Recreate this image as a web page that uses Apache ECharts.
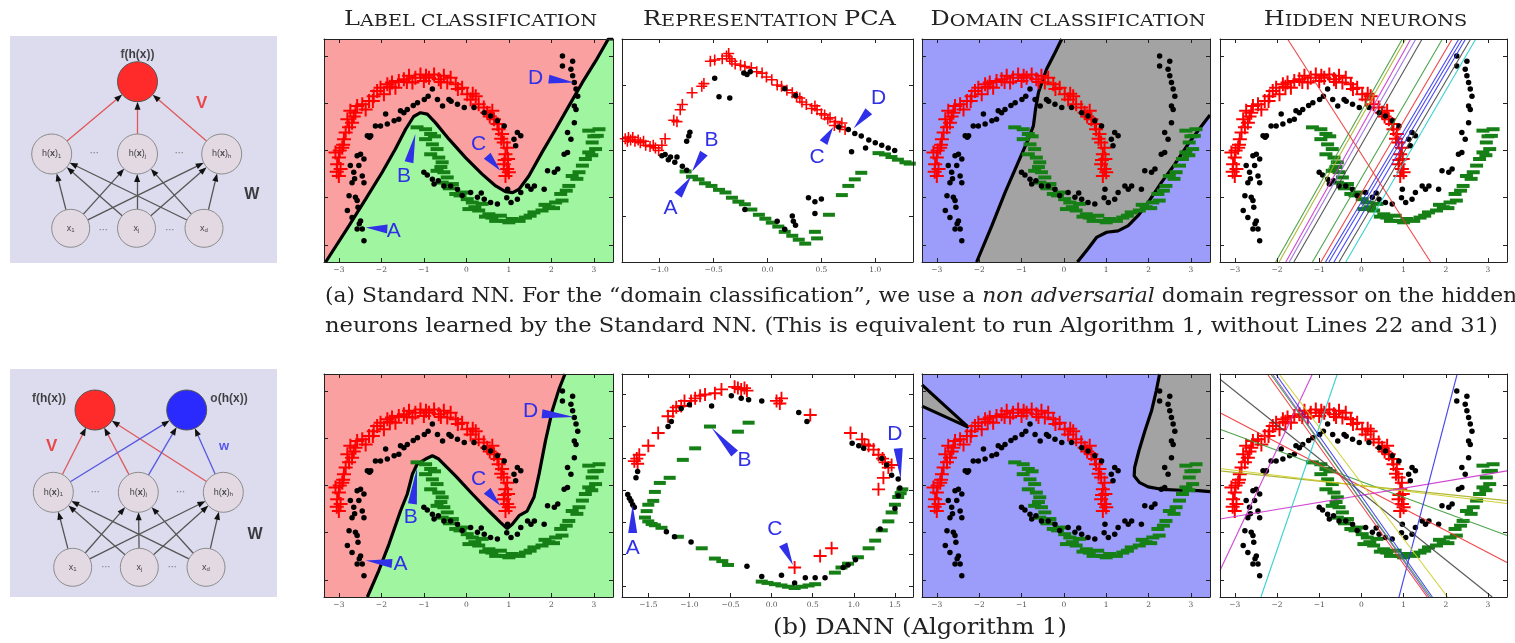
<!DOCTYPE html>
<html><head><meta charset="utf-8">
<script src="https://cdn.jsdelivr.net/npm/echarts/dist/echarts.min.js"></script>
<style>html,body{margin:0;padding:0;background:#fff}#c{width:1515px;height:643px}</style>
</head><body><div id="c"></div><script>
// ================= DATA =================
const panelTitles = ['Label classification','Representation PCA','Domain classification','Hidden neurons'];
const caption1 = '(a) Standard NN. For the \u201cdomain classification\u201d, we use a {I|non adversarial} domain regressor on the hidden';
const caption2 = 'neurons learned by the Standard NN. (This is equivalent to run Algorithm 1, without Lines 22 and 31)';
const caption3 = '(b) DANN (Algorithm 1)';

const xTicksMoon = [-3,-2,-1,0,1,2,3];
const yTicksMoon = [-2,-1,0,1,2];
const xTicksPcaA = [-1,-0.5,0,0.5,1];
const yTicksPcaA = [-0.5,0,0.5];
const xTicksPcaB = [-1.5,-1,-0.5,0,0.5,1,1.5];
const yTicksPcaB = [-0.75,-0.5,-0.25,0,0.25,0.5,0.75];

// source moon (red crosses)
const moonRed = [[-3.08,-0.04],[-3.0,-0.15],[-3.04,-0.29],[-2.96,-0.39],[-3.0,-0.54],[-2.92,0.06],[-2.88,0.24],[-2.84,0.38],[-2.76,0.49],[-2.8,0.66],[-2.69,0.59],[-2.73,0.84],[-2.61,0.8],[-2.57,0.94],[-2.45,0.98],[-2.37,0.87],[-2.29,1.05],[-2.18,1.15],[-2.1,1.26],[-2.02,1.33],[-1.94,1.19],[-1.86,1.4],[-1.75,1.44],[-1.67,1.33],[-1.59,1.47],[-1.47,1.51],[-1.35,1.58],[-1.27,1.44],[-1.2,1.54],[-1.08,1.61],[-1.0,1.47],[-0.88,1.54],[-0.76,1.61],[-0.65,1.51],[-0.53,1.58],[-0.45,1.44],[-0.37,1.54],[-0.25,1.4],[-0.1,1.33],[0.02,1.19],[0.1,1.08],[0.22,1.15],[0.29,0.98],[0.41,0.91],[0.49,0.8],[0.61,0.84],[0.65,0.66],[0.73,0.56],[0.76,0.45],[0.84,0.35],[0.88,0.17],[0.96,0.06],[0.92,-0.08],[0.98,-0.18],[0.88,-0.29],[0.96,-0.39],[0.92,-0.54],[1.0,-0.46],[-2.9,0.12],[-2.65,0.72],[-2.2,1.05],[-1.8,1.35],[-1.4,1.45],[-0.95,1.58],[-0.6,1.45],[-0.2,1.3],[0.15,1.2],[0.55,0.72],[0.82,0.25],[0.9,-0.2],[-3.05,-0.45],[-2.98,0.0]];
// source moon (green dashes)
const moonGreen = [[-1.16,0.49],[-0.96,0.45],[-0.84,0.35],[-0.96,0.24],[-0.8,0.13],[-0.69,0.03],[-0.84,-0.08],[-0.65,-0.15],[-0.57,-0.25],[-0.69,-0.43],[-0.53,-0.46],[-0.45,-0.57],[-0.57,-0.68],[-0.33,-0.71],[-0.25,-0.92],[-0.1,-0.89],[0.02,-1.03],[0.14,-1.1],[0.06,-1.24],[0.29,-1.27],[0.37,-1.13],[0.53,-1.35],[0.69,-1.49],[0.8,-1.38],[0.92,-1.49],[1.08,-1.45],[1.24,-1.49],[1.39,-1.42],[1.59,-1.31],[1.78,-1.27],[1.94,-1.2],[2.1,-1.1],[2.25,-1.06],[2.22,-0.92],[2.41,-0.75],[2.49,-0.54],[2.65,-0.46],[2.73,-0.32],[2.8,-0.18],[2.88,-0.04],[3.04,0.03],[2.96,0.17],[3.08,0.31],[3.12,0.45],[2.88,0.42],[-0.75,0.3],[-0.6,-0.35],[-0.4,-0.8],[-0.15,-0.95],[0.2,-1.2],[0.45,-1.4],[0.6,-1.42],[1.0,-1.52],[1.5,-1.38],[1.85,-1.15],[2.05,-1.22],[2.35,-0.85],[2.6,-0.6],[2.95,-0.1],[3.0,0.3]];
// target (rotated) moons (black dots)
const moonBlack = [[-2.49,-0.08],[-2.57,-0.11],[-2.41,-0.18],[-2.73,-0.32],[-2.53,-0.32],[-2.65,-0.46],[-2.45,-0.54],[-2.69,-0.68],[-2.41,-0.68],[-2.76,-0.96],[-2.61,-0.99],[-2.57,-1.06],[-2.8,-1.27],[-2.69,-1.42],[-2.49,-1.49],[-2.57,-1.66],[-2.45,-1.66],[-2.41,-1.91],[-2.63,-0.6],[-2.55,-1.2],[-2.52,-1.55],[-2.33,0.31],[-2.25,0.31],[-2.14,0.52],[-2.02,0.52],[-1.86,0.56],[-1.9,0.77],[-1.7,0.63],[-1.59,0.66],[-1.55,0.84],[-1.47,0.8],[-1.39,0.87],[-1.15,1.01],[-0.99,1.08],[-0.8,1.3],[-0.68,1.08],[-0.56,0.94],[-0.41,1.08],[-0.36,1.04],[-0.21,0.98],[-0.05,0.91],[0.18,0.91],[0.42,0.8],[0.57,0.73],[0.73,0.63],[0.89,0.52],[1.2,0.38],[1.12,0.24],[1.28,0.31],[1.16,0.1],[-2.28,0.28],[-1.25,0.95],[-0.9,1.15],[-1.0,-0.46],[-0.92,-0.52],[-0.8,-0.61],[-0.76,-0.71],[-0.66,-0.64],[-0.53,-0.75],[-0.37,-0.75],[-0.21,-0.82],[0.1,-0.89],[0.26,-0.99],[0.42,-1.03],[0.57,-1.1],[0.73,-1.13],[1.05,-1.1],[1.2,-1.03],[1.28,-0.89],[1.44,-0.75],[1.52,-0.82],[1.6,-0.75],[1.83,-0.82],[1.91,-0.43],[2.07,-0.46],[2.15,-0.39],[2.3,-0.08],[2.38,-0.04],[2.46,0.24],[2.38,0.38],[2.54,0.59],[2.58,0.87],[2.54,0.94],[2.62,1.15],[2.58,1.3],[2.54,1.44],[2.5,1.58],[2.46,1.72],[2.5,1.89],[2.26,2.0],[2.26,1.79],[0.97,-0.82],[0.95,-1.0],[0.35,-0.9],[-0.1,-0.95]];

// PCA of standard NN representation
const pcaRedA = [[-1.32,0.09],[-1.27,0.08],[-1.23,0.07],[-1.18,0.06],[-1.13,0.04],[-1.09,0.03],[-1.04,0.02],[-1.01,0.0],[-1.29,0.1],[-1.2,0.08],[-1.3,0.07],[-1.25,0.1],[-1.15,0.07],[-1.06,0.04],[-0.95,0.09],[-0.98,0.04],[-0.87,0.23],[-0.84,0.22],[-0.79,0.35],[-0.81,0.31],[-0.7,0.44],[-0.59,0.51],[-0.61,0.49],[-0.53,0.68],[-0.49,0.69],[-0.42,0.7],[-0.38,0.72],[-0.35,0.7],[-0.33,0.68],[-0.36,0.74],[-0.3,0.66],[-0.25,0.65],[-0.21,0.64],[-0.15,0.63],[-0.1,0.6],[-0.05,0.59],[-0.01,0.56],[0.04,0.54],[0.09,0.5],[0.13,0.49],[0.18,0.46],[0.23,0.44],[0.27,0.41],[0.3,0.4],[0.32,0.37],[0.36,0.35],[0.41,0.32],[0.46,0.31],[0.53,0.27],[0.56,0.24],[0.58,0.25],[0.63,0.22],[0.67,0.18],[0.72,0.16],[0.69,0.21],[0.5,0.28],[0.44,0.34],[0.62,0.19]];
const pcaGreenA = [[-0.76,-0.16],[-0.7,-0.2],[-0.64,-0.22],[-0.58,-0.25],[-0.52,-0.27],[-0.45,-0.3],[-0.39,-0.32],[-0.33,-0.36],[-0.27,-0.39],[-0.21,-0.41],[-0.15,-0.45],[-0.08,-0.49],[-0.02,-0.52],[0.04,-0.55],[0.1,-0.58],[0.16,-0.62],[0.23,-0.65],[0.29,-0.68],[0.35,-0.71],[0.44,-0.62],[0.46,-0.67],[0.57,-0.49],[0.69,-0.34],[0.75,-0.27],[0.81,-0.22],[0.87,-0.17],[1.03,-0.02],[1.09,-0.03],[1.15,-0.05],[1.21,-0.07],[1.28,-0.09],[1.32,-0.1]];
const pcaBlackA = [[-0.49,0.55],[-0.45,0.41],[-0.35,0.4],[-0.22,0.59],[-0.19,0.58],[-0.16,0.6],[0.16,0.47],[0.26,0.42],[-0.75,0.07],[-0.73,0.11],[-0.72,0.14],[-0.95,-0.03],[-0.9,-0.05],[-0.84,-0.05],[-0.98,-0.04],[-0.92,-0.07],[-0.86,-0.09],[-0.79,-0.12],[-0.75,-0.15],[-0.21,-0.45],[0.09,-0.54],[0.16,-0.6],[0.23,-0.5],[0.24,-0.54],[0.26,-0.57],[0.38,-0.36],[0.44,-0.39],[0.5,-0.37],[0.44,-0.48],[0.78,-0.01],[0.91,0.02],[0.81,0.13],[0.87,0.11],[0.94,0.08],[1.0,0.06],[1.06,0.04],[1.12,0.02],[1.18,0.0],[0.75,0.16],[0.66,0.18]];

// PCA of DANN representation
const pcaRedB = [[-1.67,0.23],[-1.64,0.25],[-1.61,0.28],[-1.63,0.21],[-1.5,0.35],[-1.38,0.45],[-1.26,0.58],[-1.2,0.62],[-1.16,0.65],[-1.1,0.66],[-1.06,0.7],[-0.98,0.7],[-0.93,0.72],[-0.87,0.74],[-0.81,0.75],[-0.69,0.76],[-0.61,0.79],[-0.45,0.81],[-0.41,0.8],[-0.37,0.79],[-0.33,0.8],[-0.3,0.78],[0.06,0.7],[0.1,0.68],[0.12,0.72],[0.47,0.59],[0.96,0.45],[1.1,0.4],[1.13,0.36],[1.18,0.35],[1.24,0.32],[1.3,0.28],[1.35,0.25],[1.38,0.22],[1.42,0.18],[1.46,0.2],[1.36,0.1],[1.3,0.01],[0.28,-0.6],[0.59,-0.51],[0.73,-0.45]];
const pcaGreenB = [[-1.5,-0.11],[-1.52,-0.16],[-1.54,-0.21],[-1.5,-0.24],[-1.46,-0.26],[-1.42,-0.27],[-1.34,-0.29],[-1.14,-0.36],[-0.85,-0.45],[-0.69,-0.53],[-0.6,-0.55],[-0.53,-0.58],[-0.12,-0.71],[-0.05,-0.72],[0.04,-0.73],[0.12,-0.74],[0.2,-0.75],[0.28,-0.76],[0.37,-0.75],[0.45,-0.74],[0.53,-0.73],[0.77,-0.64],[0.85,-0.6],[0.93,-0.57],[1.05,-0.52],[1.18,-0.45],[1.26,-0.39],[1.34,-0.31],[1.42,-0.24],[1.46,-0.17],[1.5,-0.11],[1.54,-0.05],[1.59,0.01],[1.57,-0.02],[-1.44,-0.08],[-1.42,-0.01],[-1.36,0.06],[-1.24,0.1],[-1.08,0.24],[-0.93,0.33],[-0.75,0.5],[-0.41,0.46],[-0.28,0.53]];
const pcaBlackB = [[-1.75,-0.03],[-1.73,-0.06],[-1.71,-0.08],[-1.69,-0.11],[-1.67,-0.13],[-1.65,0.1],[-1.63,0.15],[-1.26,0.5],[-1.22,0.54],[-1.1,0.64],[-1.0,0.67],[-0.73,0.66],[-0.49,0.74],[-0.37,0.72],[-0.28,0.71],[-0.12,0.7],[0.33,0.61],[0.43,0.54],[0.98,0.37],[1.06,0.35],[1.12,0.33],[1.34,0.25],[1.4,0.2],[1.46,0.12],[1.54,0.09],[1.56,0.02],[1.54,-0.04],[1.5,-0.14],[1.32,-0.3],[1.02,-0.54],[0.93,-0.58],[0.87,-0.6],[0.65,-0.68],[0.53,-0.68],[0.41,-0.68],[0.28,-0.72],[0.12,-0.66],[-0.12,-0.67],[-0.3,-0.59],[-0.98,-0.4],[-1.28,-0.32],[-1.18,-0.36]];

// decision boundaries
const labelBoundA = [[-3.31,-2.36],[-2.76,-1.59],[-2.37,-1.03],[-1.98,-0.46],[-1.67,0.03],[-1.43,0.45],[-1.24,0.72],[-1.08,0.8],[-0.92,0.77],[-0.73,0.59],[-0.41,0.24],[-0.02,-0.15],[0.37,-0.5],[0.69,-0.75],[0.92,-0.87],[1.09,-0.89],[1.24,-0.82],[1.47,-0.54],[1.78,-0.04],[2.1,0.45],[2.41,0.94],[2.73,1.44],[3.04,1.89],[3.34,2.36]];
const labelBoundB = [[-2.33,-2.36],[-2.06,-1.8],[-1.82,-1.24],[-1.55,-0.54],[-1.39,-0.18],[-1.27,0.24],[-1.16,0.45],[-0.96,0.56],[-0.8,0.63],[-0.65,0.56],[-0.25,0.2],[0.14,-0.18],[0.53,-0.54],[0.8,-0.78],[0.96,-0.91],[1.08,-0.82],[1.24,-0.64],[1.43,-0.54],[1.59,-0.25],[1.71,0.24],[1.86,0.94],[2.02,1.58],[2.18,2.04],[2.32,2.36]];
const domLeftA = [[-2.06,-2.36],[-1.7,-1.59],[-1.39,-0.89],[-1.08,-0.25],[-0.84,0.24],[-0.72,0.52],[-0.67,0.87],[-0.6,1.23],[-0.41,1.72],[-0.21,2.07],[-0.05,2.36]];
const domRightA = [[0.32,-2.36],[0.57,-2.08],[0.77,-1.84],[1.01,-1.73],[1.28,-1.7],[1.52,-1.59],[1.75,-1.38],[1.99,-1.1],[2.3,-0.68],[2.62,-0.29],[2.93,0.13],[3.25,0.52],[3.45,0.75]];
const domBoundB = [[2.26,2.36],[2.18,2.0],[2.07,1.58],[1.91,1.15],[1.77,0.73],[1.67,0.38],[1.66,0.2],[1.79,0.06],[1.99,-0.03],[2.3,-0.08],[2.77,-0.1],[3.17,-0.11],[3.45,-0.13]];
const domWedgeB = [[-3.35,2.13],[-2.25,1.23],[-3.35,1.68]];

// hidden neurons: [x1,y1,x2,y2]
const hiddenA = [[-2.03,-2.36,0.97,2.36],[-1.95,-2.36,1.05,2.36],[-1.79,-2.36,1.17,2.36],[-1.71,-2.36,1.29,2.36],[-1.6,-2.36,1.44,2.36],[-1.16,-2.36,1.92,2.36],[-0.96,-2.36,2.15,2.36],[-0.85,-2.36,2.31,2.36],[-0.77,-2.36,2.39,2.36],[-0.65,-2.36,2.47,2.36],[-0.53,-2.36,2.59,2.36],[-0.37,-2.36,2.71,2.36],[-1.75,2.36,1.64,-2.36]];
const hiddenColorsA = ['#3a9a3a','#a8b020','#cc33cc','#9966dd','#444444','#3a9a3a','#ee3333','#3333ee','#3333ee','#3333ee','#444444','#22cccc','#ee3333'];
const hiddenB = [[-3.35,2.25,3.1,-2.36],[-3.35,1.54,3.45,-1.63],[-3.35,1.19,3.45,-1.06],[-3.35,0.31,3.45,-0.32],[-3.35,0.36,3.45,-0.38],[-3.35,-0.71,3.45,0.31],[-3.35,-1.8,-1.16,2.36],[-2.38,-2.36,-0.57,2.36],[0.89,-2.36,2.27,2.36],[-2.03,2.36,1.68,-2.36],[-2.11,2.36,1.6,-2.36],[-2.23,2.36,1.56,-2.36],[-2.15,2.36,1.64,-2.36],[-1.95,2.36,2.04,-2.36]];
const hiddenColorsB = ['#444444','#ee3333','#3a9a3a','#a8b020','#cccc22','#cc33cc','#cc33cc','#22cccc','#3333ee','#3333ee','#8844dd','#ee3333','#3a9a3a','#cccc22'];

// annotations: [textX,textY, tailX,tailY, tipX,tipY]
const annLetters = ['A','B','C','D'];
const annLabelA = [[-1.71,-1.7,-1.86,-1.66,-2.37,-1.63],[-1.47,-0.54,-1.35,-0.25,-1.2,0.35],[0.29,0.13,0.49,-0.11,0.8,-0.43],[1.63,1.54,1.94,1.51,2.53,1.44]];
const annLabelB = [[-1.55,-1.66,-1.75,-1.65,-2.37,-1.59],[-1.31,-0.68,-1.27,-0.39,-1.16,0.38],[0.29,0.13,0.49,-0.11,0.8,-0.43],[1.51,1.58,1.78,1.52,2.53,1.45]];
const annPcaA = [[-0.9,-0.44,-0.83,-0.34,-0.71,-0.2],[-0.52,0.08,-0.59,-0.02,-0.7,-0.16],[0.46,-0.05,0.52,0.06,0.61,0.18],[1.03,0.4,0.94,0.3,0.8,0.17]];
const annPcaB = [[-1.69,-0.45,-1.69,-0.33,-1.69,-0.11],[-0.33,0.24,-0.45,0.29,-0.73,0.49],[0.04,-0.3,0.14,-0.42,0.26,-0.58],[1.5,0.44,1.54,0.33,1.57,0.09]];

// network diagrams: [name, x, y, diameter, kind, label]
const net1Nodes = [['f',127.5,45.7,40,'red',''],['h1',41.7,118,40,'node','{n|h(}{b|x}{n|)}{s|1}'],['hj',127.5,118,40,'node','{n|h(}{b|x}{n|)}{s|j}'],['hh',211.7,118,40,'node','{n|h(}{b|x}{n|)}{s|h}'],['x1',60.7,192.3,38,'node','{n|x}{s|1}'],['xj',126.5,192.3,38,'node','{n|x}{s|j}'],['xd',194,192.3,38,'node','{n|x}{s|d}']];
const net1Edges = [['h1','f','r'],['hj','f','r'],['hh','f','r'],['x1','h1','k'],['x1','hj','k'],['x1','hh','k'],['xj','h1','k'],['xj','hj','k'],['xj','hh','k'],['xd','h1','k'],['xd','hj','k'],['xd','hh','k']];
const net1Texts = [['{B|f(}{X|h}{B|(}{X|x}{B|))}',127.5,19,'t'],['V',191.7,67.3,'V'],['W',241.7,159,'W'],['\u00b7\u00b7\u00b7',84.5,118,'d'],['\u00b7\u00b7\u00b7',169.6,118,'d'],['\u00b7\u00b7\u00b7',93.5,195,'d'],['\u00b7\u00b7\u00b7',160,195,'d']];
const net2Nodes = [['f',85,41,40,'red',''],['o',176.7,41,40,'blue',''],['h1',43.3,123.3,40,'node','{n|h(}{b|x}{n|)}{s|1}'],['hj',128.3,123.3,40,'node','{n|h(}{b|x}{n|)}{s|j}'],['hh',213.3,123.3,40,'node','{n|h(}{b|x}{n|)}{s|h}'],['x1',62.7,198.3,38,'node','{n|x}{s|1}'],['xj',129.3,198.3,38,'node','{n|x}{s|j}'],['xd',196,198.3,38,'node','{n|x}{s|d}']];
const net2Edges = [['h1','f','r'],['hj','f','r'],['hh','f','r'],['h1','o','b'],['hj','o','b'],['hh','o','b'],['x1','h1','k'],['x1','hj','k'],['x1','hh','k'],['xj','h1','k'],['xj','hj','k'],['xj','hh','k'],['xd','h1','k'],['xd','hj','k'],['xd','hh','k']];
const net2Texts = [['{B|f(}{X|h}{B|(}{X|x}{B|))}',39,29.3,'t'],['{B|o(}{X|h}{B|(}{X|x}{B|))}',219,29.3,'t'],['V',41.7,77.7,'V'],['w',214,77.7,'w'],['W',245,166,'W'],['\u00b7\u00b7\u00b7',85.5,124,'d'],['\u00b7\u00b7\u00b7',170.8,124,'d'],['\u00b7\u00b7\u00b7',96,199,'d'],['\u00b7\u00b7\u00b7',162.6,199,'d']];

// ================= STYLE / LAYOUT =================
const SERIF = "'DejaVu Serif', 'Liberation Serif', serif";
const SANS = "'Liberation Sans', Arial, sans-serif";
const C = {red:'#faa0a0', green:'#a0f6a0', blue:'#9c9cfa', gray:'#a3a3a3', pt:'#ff0000', dash:'#168016', dot:'#000', ann:'#3030e8'};
const CROSS = 'path://M6,0H8V6H14V8H8V14H6V8H0V6H6Z';
const COLS = [[324,289],[622,291],[922,288],[1220,287]];
const ROWS = [[39,223],[374,223]];
const MX = [-3.35,3.45], MY = [-2.36,2.36];

const grid=[], xAxis=[], yAxis=[], series=[], graphic=[];

function fmt(dec){ return v => (v<0?'\u2212':'') + Math.abs(v).toFixed(dec); }
function addPanel(col,row,xr,yr,xt,yt,dec,bg){
  const gi = grid.length;
  grid.push({left:COLS[col][0], top:ROWS[row][0], width:COLS[col][1], height:ROWS[row][1], show:!!bg, backgroundColor:bg||'transparent', borderWidth:0});
  const line = {show:true, onZero:false, lineStyle:{color:'#222', width:1}};
  const tick = v => ({show:true, inside:true, length:4, customValues:v, lineStyle:{color:'#222', width:1}});
  const xi = xAxis.length, yi = yAxis.length;
  xAxis.push({gridIndex:gi, type:'value', min:xr[0], max:xr[1], position:'bottom', z:10, axisLine:line, axisTick:tick(xt),
    axisLabel:{show:true, customValues:xt, formatter:fmt(dec), fontSize:7.5, color:'#555', margin:4, fontFamily:"'DejaVu Serif', serif"}, splitLine:{show:false}});
  xAxis.push({gridIndex:gi, type:'value', min:xr[0], max:xr[1], position:'top', z:10, axisLine:line, axisTick:tick(xt), axisLabel:{show:false}, splitLine:{show:false}});
  yAxis.push({gridIndex:gi, type:'value', min:yr[0], max:yr[1], position:'left', z:10, axisLine:line, axisTick:tick(yt), axisLabel:{show:false}, splitLine:{show:false}});
  yAxis.push({gridIndex:gi, type:'value', min:yr[0], max:yr[1], position:'right', z:10, axisLine:line, axisTick:tick(yt), axisLabel:{show:false}, splitLine:{show:false}});
  return {xi, yi};
}
function base(ax){ return {xAxisIndex:ax.xi, yAxisIndex:ax.yi, silent:true, animation:false}; }
function polygon(ax, pts, color){
  series.push(Object.assign(base(ax), {type:'custom', data:[[0,0]], encode:{x:0,y:1}, clip:true, z:1,
    renderItem:(p,api)=>({type:'polygon', shape:{points:pts.map(q=>api.coord(q))}, style:{fill:color}})}));
}
function boundary(ax, pts){
  series.push(Object.assign(base(ax), {type:'line', data:pts, showSymbol:false, symbol:'none', z:2, clip:true, lineStyle:{color:'#000', width:3.2}}));
}
function points(ax, red, green, black, s){
  series.push(Object.assign(base(ax), {type:'scatter', data:red, symbol:CROSS, symbolSize:s.c, itemStyle:{color:C.pt, opacity:1}, z:3}));
  series.push(Object.assign(base(ax), {type:'scatter', data:green, symbol:'rect', symbolSize:s.g, itemStyle:{color:C.dash, opacity:1}, z:3}));
  series.push(Object.assign(base(ax), {type:'scatter', data:black, symbol:'circle', symbolSize:s.b, itemStyle:{color:C.dot, opacity:1}, z:3}));
}
function neurons(ax, lines, colors){
  series.push(Object.assign(base(ax), {type:'lines', coordinateSystem:'cartesian2d', z:4,
    data: lines.map((l,i)=>({coords:[[l[0],l[1]],[l[2],l[3]]], lineStyle:{color:colors[i], width:1.1, opacity:0.9}})),
    lineStyle:{width:1.1}}));
}
function annotate(ax, ann){
  series.push(Object.assign(base(ax), {type:'custom', data:ann, encode:{x:[0,2,4], y:[1,3,5]}, z:5,
    renderItem:(p,api)=>{
      const t = api.coord([api.value(0),api.value(1)]), a = api.coord([api.value(2),api.value(3)]), b = api.coord([api.value(4),api.value(5)]);
      const dx=b[0]-a[0], dy=b[1]-a[1], L=Math.hypot(dx,dy)||1, nx=-dy/L, ny=dx/L, w=4.5;
      return {type:'group', children:[
        {type:'polygon', shape:{points:[[a[0]+nx*w,a[1]+ny*w],b,[a[0]-nx*w,a[1]-ny*w]]}, style:{fill:C.ann}},
        {type:'text', x:t[0], y:t[1], style:{text:annLetters[p.dataIndex], fontSize:21, fontFamily:SANS, fill:C.ann, align:'center', verticalAlign:'middle'}}
      ]};
    }}));
}

// ---------- diagrams ----------
const NODE = {red:['#ff2b2b','#555'], blue:['#2a2aff','#555'], node:['#e3d9e3','#8c8c8c']};
const EDGE = {r:'#e05858', b:'#5858e0', k:'#555555'};
function addDiagram(left, top, w, h, nodes, edges, texts){
  const gi = grid.length;
  grid.push({left, top, width:w, height:h, show:true, backgroundColor:'#dcdcee', borderWidth:0});
  xAxis.push({gridIndex:gi, type:'value', min:0, max:w, show:false});
  yAxis.push({gridIndex:gi, type:'value', min:0, max:h, inverse:true, show:false});
  const ax = {xi:xAxis.length-1, yi:yAxis.length-1};
  const by = Object.fromEntries(nodes.map(n=>[n[0],n]));
  const segs=[], heads=[];
  edges.forEach(([a,b,c])=>{
    const A=by[a], B=by[b], dx=B[1]-A[1], dy=B[2]-A[2], L=Math.hypot(dx,dy), ux=dx/L, uy=dy/L;
    const ra=A[3]/2, rb=B[3]/2+4;
    segs.push({coords:[[A[1]+ux*ra, A[2]+uy*ra],[B[1]-ux*rb, B[2]-uy*rb]], lineStyle:{color:EDGE[c]}});
    heads.push({value:[B[1]-ux*rb, B[2]-uy*rb], symbolRotate: Math.atan2(-ux,-uy)*180/Math.PI});
  });
  series.push(Object.assign(base(ax), {type:'lines', coordinateSystem:'cartesian2d', data:segs, lineStyle:{width:1.3, opacity:1}, z:2}));
  series.push(Object.assign(base(ax), {type:'scatter', data:heads, symbol:'triangle', symbolSize:[6,8], itemStyle:{color:'#111', opacity:1}, z:3}));
  const rich = {n:{fontSize:9, fontFamily:SANS, color:'#444'}, b:{fontSize:9, fontWeight:'bold', fontFamily:SANS, color:'#444'}, s:{fontSize:6, fontFamily:SANS, color:'#444', padding:[4,0,0,0]}};
  series.push(Object.assign(base(ax), {type:'scatter', z:4,
    data: nodes.map(n=>({value:[n[1],n[2]], symbolSize:n[3], itemStyle:{color:NODE[n[4]][0], borderColor:NODE[n[4]][1], borderWidth:1, opacity:1},
      label:{show:!!n[5], position:'inside', formatter:n[5], rich}}))}));
  const trich = {B:{fontSize:12, fontWeight:'bold', fontFamily:SANS, color:'#222'}, X:{fontSize:12, fontWeight:'bold', fontFamily:SANS, color:'#111'}};
  const tstyle = {t:{fontSize:12,color:'#222'}, V:{fontSize:17,color:'#ee2222'}, w:{fontSize:13,color:'#3333ee'}, W:{fontSize:16,color:'#111'}, d:{fontSize:9,color:'#777'}};
  series.push(Object.assign(base(ax), {type:'scatter', z:5, symbolSize:1, itemStyle:{color:'rgba(0,0,0,0)'},
    data: texts.map(t=>({value:[t[1],t[2]], label:{show:true, position:'inside', formatter:t[0], fontWeight:'bold', fontFamily:SANS, fontSize:tstyle[t[3]].fontSize, color:tstyle[t[3]].color, rich:trich}}))}));
}

// ================= BUILD =================
addDiagram(10, 36, 267, 227, net1Nodes, net1Edges, net1Texts);
addDiagram(10, 369, 267, 228, net2Nodes, net2Edges, net2Texts);

const moonSize = {c:14, g:[13,4], b:5.5};
// Row (a)
let ax = addPanel(0,0,MX,MY,xTicksMoon,yTicksMoon,0,C.red);
polygon(ax, [...labelBoundA, [3.45,2.36],[3.45,-2.36],[-3.35,-2.36]], C.green);
boundary(ax, [...labelBoundA,[3.45,2.36]]);
points(ax, moonRed, moonGreen, moonBlack, moonSize);
annotate(ax, annLabelA);

ax = addPanel(1,0,[-1.35,1.35],[-0.85,0.85],xTicksPcaA,yTicksPcaA,1);
points(ax, pcaRedA, pcaGreenA, pcaBlackA, {c:11, g:[12,4], b:5.5});
annotate(ax, annPcaA);

ax = addPanel(2,0,MX,MY,xTicksMoon,yTicksMoon,0,C.blue);
polygon(ax, [...domLeftA, [3.45,2.36], ...domRightA.slice().reverse()], C.gray);
boundary(ax, domLeftA); boundary(ax, domRightA);
points(ax, moonRed, moonGreen, moonBlack, moonSize);

ax = addPanel(3,0,MX,MY,xTicksMoon,yTicksMoon,0);
points(ax, moonRed, moonGreen, moonBlack, moonSize);
neurons(ax, hiddenA, hiddenColorsA);

// Row (b)
ax = addPanel(0,1,MX,MY,xTicksMoon,yTicksMoon,0,C.red);
polygon(ax, [...labelBoundB, [3.45,2.36],[3.45,-2.36]], C.green);
boundary(ax, labelBoundB);
points(ax, moonRed, moonGreen, moonBlack, moonSize);
annotate(ax, annLabelB);

ax = addPanel(1,1,[-1.82,1.72],[-0.83,0.91],xTicksPcaB,yTicksPcaB,1);
points(ax, pcaRedB, pcaGreenB, pcaBlackB, {c:13, g:[12,4], b:5.5});
annotate(ax, annPcaB);

ax = addPanel(2,1,MX,MY,xTicksMoon,yTicksMoon,0,C.blue);
polygon(ax, [...domBoundB, [3.45,2.36]], C.gray);
polygon(ax, domWedgeB, C.gray);
boundary(ax, domBoundB); boundary(ax, domWedgeB);
points(ax, moonRed, moonGreen, moonBlack, moonSize);

ax = addPanel(3,1,MX,MY,xTicksMoon,yTicksMoon,0);
points(ax, moonRed, moonGreen, moonBlack, moonSize);
neurons(ax, hiddenB, hiddenColorsB);

// ---------- texts ----------
function smallCaps(s){
  let out='', cur=null, buf='';
  for (const ch of s){ const t = (ch !== ch.toLowerCase()) ? 'B' : 'S'; if (t!==cur){ if (buf) out += '{'+cur+'|'+buf+'}'; buf=''; cur=t; } buf += ch.toUpperCase(); }
  if (buf) out += '{'+cur+'|'+buf+'}';
  return out;
}
const titleRich = {B:{fontSize:20, fontFamily:SERIF, fill:'#222', color:'#222', verticalAlign:'bottom', lineHeight:21},
                   S:{fontSize:16, fontFamily:SERIF, fill:'#222', color:'#222', verticalAlign:'bottom', lineHeight:21}};
panelTitles.forEach((t,i)=>{
  graphic.push({type:'text', x:COLS[i][0]+COLS[i][1]/2 + 2, y:19, scaleX:1.2, silent:true,
    style:{text:smallCaps(t), rich:titleRich, align:'center', verticalAlign:'middle', fill:'#222'}});
});
const capStyle = {fontSize:21, fontFamily:SERIF, fill:'#222'};
graphic.push({type:'text', x:325, y:297, scaleX:1.04, silent:true, style:Object.assign({text:caption1, align:'left', verticalAlign:'middle',
  rich:{I:{fontSize:21, fontFamily:SERIF, fontStyle:'italic', fill:'#222', color:'#222'}}}, capStyle)});
graphic.push({type:'text', x:325, y:327, scaleX:1.078, silent:true, style:Object.assign({text:caption2, align:'left', verticalAlign:'middle'}, capStyle)});
graphic.push({type:'text', x:920, y:628, scaleX:1.1, silent:true, style:Object.assign({text:caption3, align:'center', verticalAlign:'middle'}, capStyle, {fontSize:22})});

const chart = echarts.init(document.getElementById('c'), null, {renderer:'canvas'});
chart.setOption({animation:false, backgroundColor:'#fff', grid, xAxis, yAxis, series, graphic});
</script></body></html>
